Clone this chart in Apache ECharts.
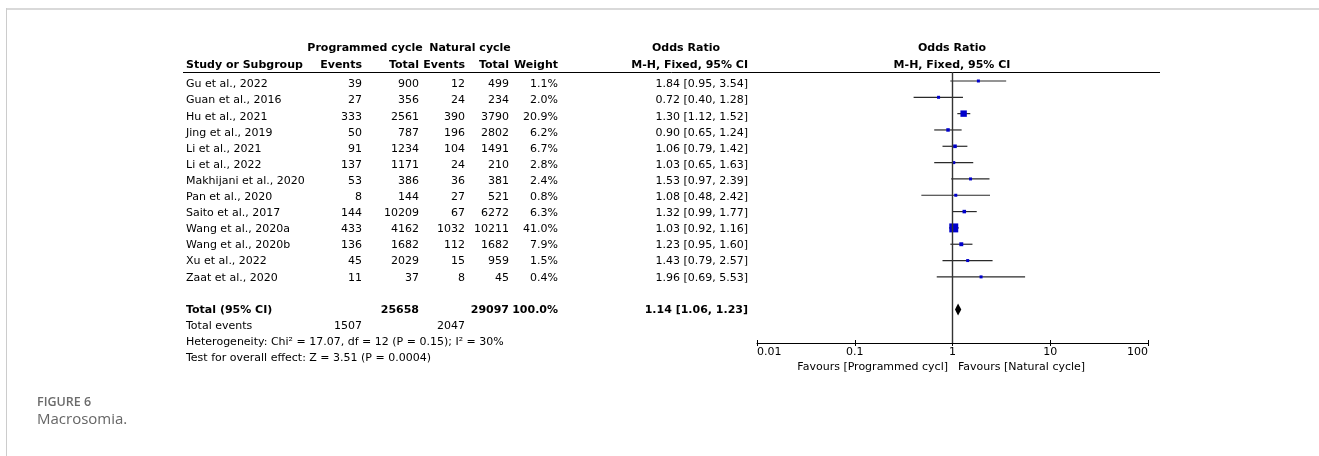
<!DOCTYPE html>
<html>
<head>
<meta charset="utf-8">
<script src="https://cdn.jsdelivr.net/npm/echarts@6/dist/echarts.min.js"></script>
<style>
  html, body { margin: 0; padding: 0; background: #fff; }
  #chart { width: 1319px; height: 456px; }
</style>
</head>
<body>
<div id="chart"></div>
<script>
// Forest plot: macrosomia, programmed vs natural cycle (M-H, fixed, 95% CI)
const studies = ["Gu et al., 2022", "Guan et al., 2016", "Hu et al., 2021", "Jing et al., 2019",
  "Li et al., 2021", "Li et al., 2022", "Makhijani et al., 2020", "Pan et al., 2020",
  "Saito et al., 2017", "Wang et al., 2020a", "Wang et al., 2020b", "Xu et al., 2022", "Zaat et al., 2020"];
const progEvents = [39, 27, 333, 50, 91, 137, 53, 8, 144, 433, 136, 45, 11];
const progTotal = [900, 356, 2561, 787, 1234, 1171, 386, 144, 10209, 4162, 1682, 2029, 37];
const natEvents = [12, 24, 390, 196, 104, 24, 36, 27, 67, 1032, 112, 15, 8];
const natTotal = [499, 234, 3790, 2802, 1491, 210, 381, 521, 6272, 10211, 1682, 959, 45];
const weights = [1.1, 2.0, 20.9, 6.2, 6.7, 2.8, 2.4, 0.8, 6.3, 41.0, 7.9, 1.5, 0.4];
const oddsRatio = [1.84, 0.72, 1.30, 0.90, 1.06, 1.03, 1.53, 1.08, 1.32, 1.03, 1.23, 1.43, 1.96];
const ciLow = [0.95, 0.40, 1.12, 0.65, 0.79, 0.65, 0.97, 0.48, 0.99, 0.92, 0.95, 0.79, 0.69];
const ciHigh = [3.54, 1.28, 1.52, 1.24, 1.42, 1.63, 2.39, 2.42, 1.77, 1.16, 1.60, 2.57, 5.53];

const pooled = { total1: 25658, total2: 29097, weight: 100.0, or: 1.14, low: 1.06, high: 1.23, events1: 1507, events2: 2047 };
const heterogeneityText = "Heterogeneity: Chi\u00b2 = 17.07, df = 12 (P = 0.15); I\u00b2 = 30%";
const overallText = "Test for overall effect: Z = 3.51 (P = 0.0004)";
const axisTicks = [0.01, 0.1, 1, 10, 100];
const favoursLeft = "Favours [Programmed cycl]";
const favoursRight = "Favours [Natural cycle]";

// layout
const FONT = "DejaVu Sans";
const FS = 11;
const COL = { study: 186, ev1: 362, tot1: 419, ev2: 465, tot2: 509, weight: 558, ci: 748 };
const ROW_TOP = 72, ROW_BOTTOM = 343;
const PLOT_Y = [-0.55, 16.05];     // row range of the plot panel
const TEXT_Y = [-0.776, 16.056];   // row range of the table text
const PLOT_LEFT = 757, PLOT_RIGHT = 1148;
const ROW_TOTAL = studies.length + 1;

const fmtCI = (o, l, h) => o.toFixed(2) + " [" + l.toFixed(2) + ", " + h.toFixed(2) + "]";

// table cells: [x, row] plus text / alignment / weight
const cells = [];
function cell(x, row, text, align, bold) { cells.push({ value: [x, row], text: String(text), align: align, bold: !!bold }); }
studies.forEach((s, i) => {
  cell(COL.study, i, s, "left");
  cell(COL.ev1, i, progEvents[i], "right");
  cell(COL.tot1, i, progTotal[i], "right");
  cell(COL.ev2, i, natEvents[i], "right");
  cell(COL.tot2, i, natTotal[i], "right");
  cell(COL.weight, i, weights[i].toFixed(1) + "%", "right");
  cell(COL.ci, i, fmtCI(oddsRatio[i], ciLow[i], ciHigh[i]), "right");
});
cell(COL.study, ROW_TOTAL, "Total (95% CI)", "left", true);
cell(COL.tot1, ROW_TOTAL, pooled.total1, "right", true);
cell(COL.tot2, ROW_TOTAL, pooled.total2, "right", true);
cell(COL.weight, ROW_TOTAL, pooled.weight.toFixed(1) + "%", "right", true);
cell(COL.ci, ROW_TOTAL, fmtCI(pooled.or, pooled.low, pooled.high), "right", true);
cell(COL.study, ROW_TOTAL + 1, "Total events", "left");
cell(COL.ev1, ROW_TOTAL + 1, pooled.events1, "right");
cell(COL.ev2, ROW_TOTAL + 1, pooled.events2, "right");
cell(COL.study, ROW_TOTAL + 2, heterogeneityText, "left");
cell(COL.study, ROW_TOTAL + 3, overallText, "left");

const studyData = studies.map((s, i) => ({ value: [oddsRatio[i], i, ciLow[i], ciHigh[i], weights[i]] }));

const chart = echarts.init(document.getElementById("chart"), null, { renderer: "canvas" });

function headerText(x, y, text, align, bold) {
  return {
    type: "text", x: x, y: y, silent: true,
    style: { text: text, font: (bold ? "bold " : "") + FS + "px '" + FONT + "'", fill: "#000",
      textAlign: align, textVerticalAlign: "middle", align: align, verticalAlign: "middle" }
  };
}

const graphics = [
  // frame
  { type: "line", shape: { x1: 6, y1: 9, x2: 1319, y2: 9 }, style: { stroke: "#d9d9d9", lineWidth: 2 }, silent: true },
  { type: "line", shape: { x1: 6.5, y1: 8, x2: 6.5, y2: 456 }, style: { stroke: "#cccccc", lineWidth: 1 }, silent: true },
  // header rule
  { type: "line", shape: { x1: 183, y1: 72.5, x2: 1160, y2: 72.5 }, style: { stroke: "#000", lineWidth: 1 }, silent: true },
  headerText(365, 48, "Programmed cycle", "center", true),
  headerText(470, 48, "Natural cycle", "center", true),
  headerText(686, 48, "Odds Ratio", "center", true),
  headerText(952, 48, "Odds Ratio", "center", true),
  headerText(COL.study, 65, "Study or Subgroup", "left", true),
  headerText(COL.ev1, 65, "Events", "right", true),
  headerText(COL.tot1, 65, "Total", "right", true),
  headerText(COL.ev2, 65, "Events", "right", true),
  headerText(COL.tot2, 65, "Total", "right", true),
  headerText(COL.weight, 65, "Weight", "right", true),
  headerText(COL.ci, 65, "M-H, Fixed, 95% CI", "right", true),
  headerText(952, 65, "M-H, Fixed, 95% CI", "center", true),
  headerText(948, 367, favoursLeft, "right", false),
  headerText(958, 367, favoursRight, "left", false),
  // caption
  { type: "text", x: 37, y: 402, silent: true,
    style: { text: "FIGURE 6", font: "600 12.5px 'Open Sans'", fill: "#6b6b6b", textVerticalAlign: "middle", verticalAlign: "middle" } },
  { type: "text", x: 37, y: 420, silent: true,
    style: { text: "Macrosomia.", font: "15px 'Open Sans'", fill: "#666", textVerticalAlign: "middle", verticalAlign: "middle" } }
];

const gridBox = { top: ROW_TOP, height: ROW_BOTTOM - ROW_TOP, containLabel: false };
const logAxisBase = { type: "log", logBase: 10, min: axisTicks[0], max: axisTicks[axisTicks.length - 1], splitNumber: axisTicks.length - 1, position: "bottom" };

const option = {
  animation: false,
  backgroundColor: "#fff",
  grid: [
    Object.assign({ left: PLOT_LEFT, width: PLOT_RIGHT - PLOT_LEFT }, gridBox),
    Object.assign({ left: 0, width: 1319 }, gridBox),
    Object.assign({ left: PLOT_LEFT, width: PLOT_RIGHT - PLOT_LEFT }, gridBox)
  ],
  xAxis: [
    Object.assign({}, logAxisBase, {
      gridIndex: 0,
      axisLine: { show: true, onZero: false, lineStyle: { color: "#000", width: 1 } },
      axisTick: { show: true, inside: false, length: 3, lineStyle: { color: "#000" } },
      axisLabel: {
        show: true, color: "#000", fontFamily: FONT, fontSize: FS, margin: 4,
        alignMinLabel: "left", alignMaxLabel: "right",
        formatter: v => { const t = axisTicks.find(a => Math.abs(Math.log10(a) - Math.log10(v)) < 1e-6); return t === undefined ? "" : String(t); }
      },
      splitLine: { show: false }, minorTick: { show: false }
    }),
    { type: "value", gridIndex: 1, min: 0, max: 1319, show: false },
    Object.assign({}, logAxisBase, {
      // upward half of the tick marks
      gridIndex: 2,
      axisLine: { show: false, onZero: false }, axisLabel: { show: false }, splitLine: { show: false },
      axisTick: { show: true, inside: true, length: 3, lineStyle: { color: "#000" } }
    })
  ],
  yAxis: [
    { type: "value", gridIndex: 0, inverse: true, min: PLOT_Y[0], max: PLOT_Y[1], show: false },
    { type: "value", gridIndex: 1, inverse: true, min: TEXT_Y[0], max: TEXT_Y[1], show: false },
    { type: "value", gridIndex: 2, inverse: true, min: PLOT_Y[0], max: PLOT_Y[1], show: false }
  ],
  series: [
    {
      // study estimates: CI whisker and weighted square
      type: "custom", xAxisIndex: 0, yAxisIndex: 0, clip: false, silent: true,
      data: studyData,
      renderItem: (params, api) => {
        const c = api.coord([api.value(0), api.value(1)]);
        const l = api.coord([api.value(2), api.value(1)]);
        const h = api.coord([api.value(3), api.value(1)]);
        const s = Math.max(3, 1.4 * Math.sqrt(api.value(4)));
        return {
          type: "group",
          children: [
            { type: "line", shape: { x1: l[0], y1: c[1], x2: h[0], y2: c[1] }, style: { stroke: "#2a2a2a", lineWidth: 1.2 } },
            { type: "rect", shape: { x: c[0] - s / 2, y: c[1] - s / 2, width: s, height: s }, style: { fill: "#0000cc" } }
          ]
        };
      },
      markLine: {
        silent: true, symbol: "none", label: { show: false },
        lineStyle: { color: "#333", width: 1.4, type: "solid" },
        data: [{ xAxis: 1 }]
      }
    },
    {
      // pooled estimate diamond
      type: "custom", xAxisIndex: 0, yAxisIndex: 0, clip: false, silent: true,
      data: [[pooled.or, ROW_TOTAL, pooled.low, pooled.high]],
      renderItem: (params, api) => {
        const c = api.coord([api.value(0), api.value(1)]);
        const l = api.coord([api.value(2), api.value(1)]);
        const h = api.coord([api.value(3), api.value(1)]);
        const hh = 6;
        return {
          type: "polygon",
          shape: { points: [[l[0], c[1]], [c[0], c[1] - hh], [h[0], c[1]], [c[0], c[1] + hh]] },
          style: { fill: "#000" }
        };
      }
    },
    {
      // table text
      type: "custom", xAxisIndex: 1, yAxisIndex: 1, clip: false, silent: true,
      data: cells,
      renderItem: (params, api) => {
        const d = cells[params.dataIndex];
        const p = api.coord([api.value(0), api.value(1)]);
        return {
          type: "text", x: p[0], y: p[1],
          style: { text: d.text, font: (d.bold ? "bold " : "") + FS + "px '" + FONT + "'", fill: "#000",
            textAlign: d.align, textVerticalAlign: "middle", align: d.align, verticalAlign: "middle" }
        };
      }
    }
  ],
  graphic: graphics
};

chart.setOption(option);
</script>
</body>
</html>
